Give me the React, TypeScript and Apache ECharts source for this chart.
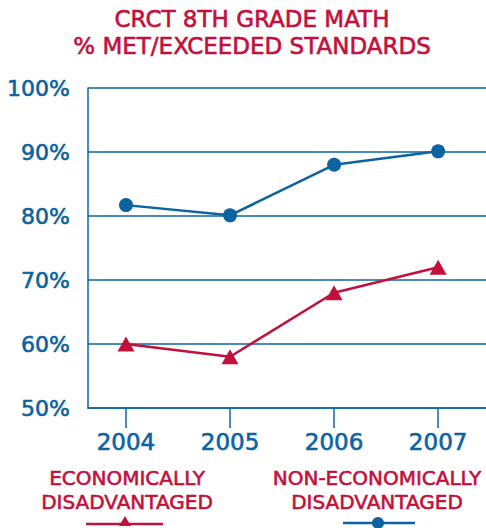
import React, { useEffect, useRef } from "react";
import * as echarts from "echarts";

const years = [2004, 2005, 2006, 2007];
const economicallyDisadvantaged = [60, 58, 68, 72];
const nonEconomicallyDisadvantaged = [81.7, 80.1, 88, 90.1];
const titleLines = ["CRCT 8TH GRADE MATH", "% MET/EXCEEDED STANDARDS"];
const legendLabels = ["ECONOMICALLY\nDISADVANTAGED", "NON-ECONOMICALLY\nDISADVANTAGED"];

const BLUE = "#0b63a0";
const RED = "#c2103b";
const FONT = "'DejaVu Sans', sans-serif";

export default function App() {
  const ref = useRef<HTMLDivElement>(null);

  useEffect(() => {
    if (!ref.current) return;
    const chart = echarts.init(ref.current, undefined, { renderer: "svg" });
    const pairs = (vals: number[]) => years.map((y, i) => [y, vals[i]]);
    // a thin outline in the fill colour gives the lettering a medium weight
    const heavy = (color: string) => ({ textBorderColor: color, textBorderWidth: 0.6 });

    chart.setOption({
      animation: false,
      backgroundColor: "#ffffff",
      title: {
        text: titleLines.join("\n"),
        left: 247,
        textAlign: "center",
        top: 0,
        textStyle: {
          color: RED,
          fontFamily: FONT,
          fontSize: 23,
          fontWeight: "normal",
          lineHeight: 27,
          ...heavy(RED),
        },
      },
      grid: { left: 88, right: 0, top: 88, bottom: 120, containLabel: false },
      xAxis: {
        type: "value",
        min: 2003.635,
        max: 2007.46,
        axisLine: { show: true, lineStyle: { color: BLUE, width: 1.5 } },
        axisTick: {
          show: true,
          customValues: years,
          length: 20,
          lineStyle: { color: BLUE, width: 1.5 },
        },
        axisLabel: {
          customValues: years,
          color: BLUE,
          fontFamily: FONT,
          fontSize: 23,
          margin: 22,
          formatter: (v: number) => String(Math.round(v)),
          ...heavy(BLUE),
        },
        splitLine: { show: false },
      },
      yAxis: {
        type: "value",
        min: 50,
        max: 100,
        interval: 10,
        axisLine: { show: true, lineStyle: { color: BLUE, width: 1.5 } },
        axisTick: { show: false },
        axisLabel: {
          color: BLUE,
          fontFamily: FONT,
          fontSize: 22,
          margin: 18,
          formatter: "{value}%",
          ...heavy(BLUE),
        },
        splitLine: { show: true, lineStyle: { color: BLUE, width: 1.5 } },
      },
      series: [
        {
          name: "ECONOMICALLY DISADVANTAGED",
          type: "line",
          data: pairs(economicallyDisadvantaged),
          symbol: "triangle",
          symbolSize: [17, 15],
          lineStyle: { color: RED, width: 2.5 },
          itemStyle: { color: RED },
        },
        {
          name: "NON-ECONOMICALLY DISADVANTAGED",
          type: "line",
          data: pairs(nonEconomicallyDisadvantaged),
          symbol: "circle",
          symbolSize: 14,
          lineStyle: { color: BLUE, width: 2.5 },
          itemStyle: { color: BLUE },
        },
      ],
      graphic: [
        {
          type: "text",
          x: 127,
          y: 466,
          style: {
            text: legendLabels[0],
            fill: RED,
            font: `normal 20px ${FONT}`,
            lineHeight: 24,
            align: "center",
            stroke: RED,
            lineWidth: 0.6,
          },
        },
        {
          type: "line",
          shape: { x1: 86, y1: 524, x2: 163, y2: 524 },
          style: { stroke: RED, lineWidth: 2.5 },
        },
        {
          type: "polygon",
          shape: { points: [[125, 516], [131, 526], [119, 526]] },
          style: { fill: RED },
        },
        {
          type: "text",
          x: 377,
          y: 466,
          style: {
            text: legendLabels[1],
            fill: RED,
            font: `normal 20px ${FONT}`,
            lineHeight: 24,
            align: "center",
            stroke: RED,
            lineWidth: 0.6,
          },
        },
        {
          type: "line",
          shape: { x1: 343, y1: 523, x2: 415, y2: 523 },
          style: { stroke: BLUE, lineWidth: 2.5 },
        },
        {
          type: "circle",
          shape: { cx: 378, cy: 523, r: 6 },
          style: { fill: BLUE },
        },
      ],
    });

    return () => chart.dispose();
  }, []);

  return (
    <div
      ref={ref}
      style={{ position: "absolute", left: 0, top: 0, width: 486, height: 528 }}
    />
  );
}
